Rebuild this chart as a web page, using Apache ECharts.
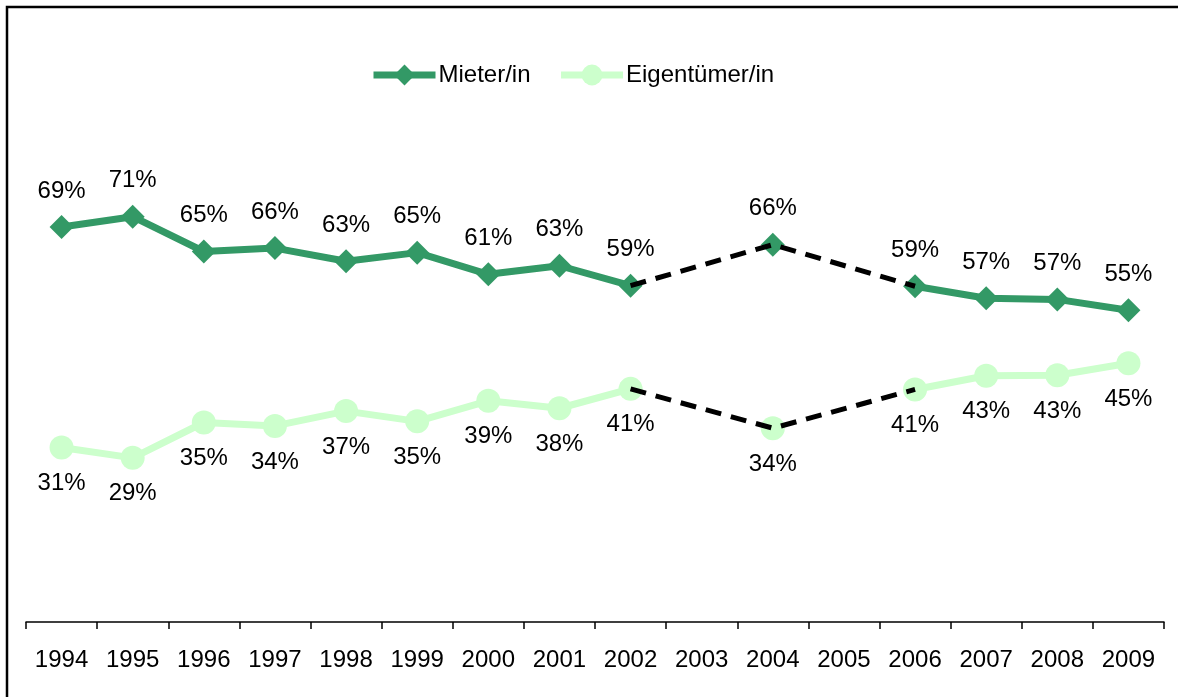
<!DOCTYPE html>
<html>
<head>
<meta charset="utf-8">
<script src="https://cdn.jsdelivr.net/npm/echarts@6/dist/echarts.min.js"></script>
<style>
html,body{margin:0;padding:0;background:#fff;}
#chart{width:1178px;height:697px;}
</style>
</head>
<body>
<div id="chart"></div>
<script>
const years = ['1994','1995','1996','1997','1998','1999','2000','2001','2002','2003','2004','2005','2006','2007','2008','2009'];
const mieter = [69.3,71.1,65.0,65.6,63.3,64.8,61.0,62.5,59.0,null,66.2,null,58.9,56.8,56.6,54.7];
const eigentuemer = [30.6,28.8,35.0,34.4,37.0,35.2,38.8,37.5,40.9,null,34.0,null,40.8,43.2,43.3,45.4];
const bridgeYears = ['2002','2004','2006'];

function bridge(arr){
  return years.map((y,i)=> bridgeYears.indexOf(y) >= 0 ? arr[i] : null);
}

const FONT = 'Liberation Sans, Arial, sans-serif';
const FS = 24;
const DARK = '#339966', LIGHT = '#CCFFCC';
const chart = echarts.init(document.getElementById('chart'), null, {renderer:'canvas'});
const fmt = p => Math.round(p.value) + '%';

chart.setOption({
  animation:false,
  backgroundColor:'#fff',
  textStyle:{fontFamily:FONT},
  graphic:[{
    type:'rect', silent:true, z:0,
    shape:{x:7,y:7,width:1400,height:900},
    style:{fill:'none',stroke:'#000',lineWidth:2.5}
  }],
  legend:{
    data:[
      {name:'Mieter/in', itemStyle:{color:DARK}, lineStyle:{color:DARK,width:7}},
      {name:'Eigentümer/in', itemStyle:{color:LIGHT}, lineStyle:{color:LIGHT,width:7}}
    ],
    left:365, top:58,
    itemWidth:62, itemHeight:26, itemGap:27,
    textStyle:{fontFamily:FONT,fontSize:FS,color:'#000',padding:[0,0,0,-2]}
  },
  grid:{left:26,right:14,top:52,bottom:75,containLabel:false},
  xAxis:{
    type:'category', data:years, boundaryGap:true,
    axisLine:{lineStyle:{color:'#000',width:1.5}},
    axisTick:{show:true,alignWithLabel:false,length:7,lineStyle:{color:'#000',width:1.5}},
    axisLabel:{color:'#000',fontFamily:FONT,fontSize:FS,margin:26,interval:0},
    splitLine:{show:false}
  },
  yAxis:{
    type:'value', min:0, max:100, show:false,
    splitLine:{show:false}
  },
  series:[
    {
      name:'Mieter/in', type:'line', data:mieter, connectNulls:false,
      symbol:'diamond', symbolSize:24,
      itemStyle:{color:DARK},
      lineStyle:{color:DARK,width:7},
      label:{show:true,position:'top',distance:12,formatter:fmt,color:'#000',fontFamily:FONT,fontSize:FS},
      z:3
    },
    {
      name:'Eigentümer/in', type:'line', data:eigentuemer, connectNulls:false,
      symbol:'circle', symbolSize:24,
      itemStyle:{color:LIGHT},
      lineStyle:{color:LIGHT,width:7},
      label:{show:true,position:'bottom',distance:12,formatter:fmt,color:'#000',fontFamily:FONT,fontSize:FS},
      z:3
    },
    {
      name:'bridgeM', type:'line', data:bridge(mieter), connectNulls:true,
      symbol:'none', silent:true,
      lineStyle:{color:'#000',width:5,type:[16,10]},
      z:4
    },
    {
      name:'bridgeE', type:'line', data:bridge(eigentuemer), connectNulls:true,
      symbol:'none', silent:true,
      lineStyle:{color:'#000',width:5,type:[16,10]},
      z:4
    }
  ]
});
</script>
</body>
</html>
